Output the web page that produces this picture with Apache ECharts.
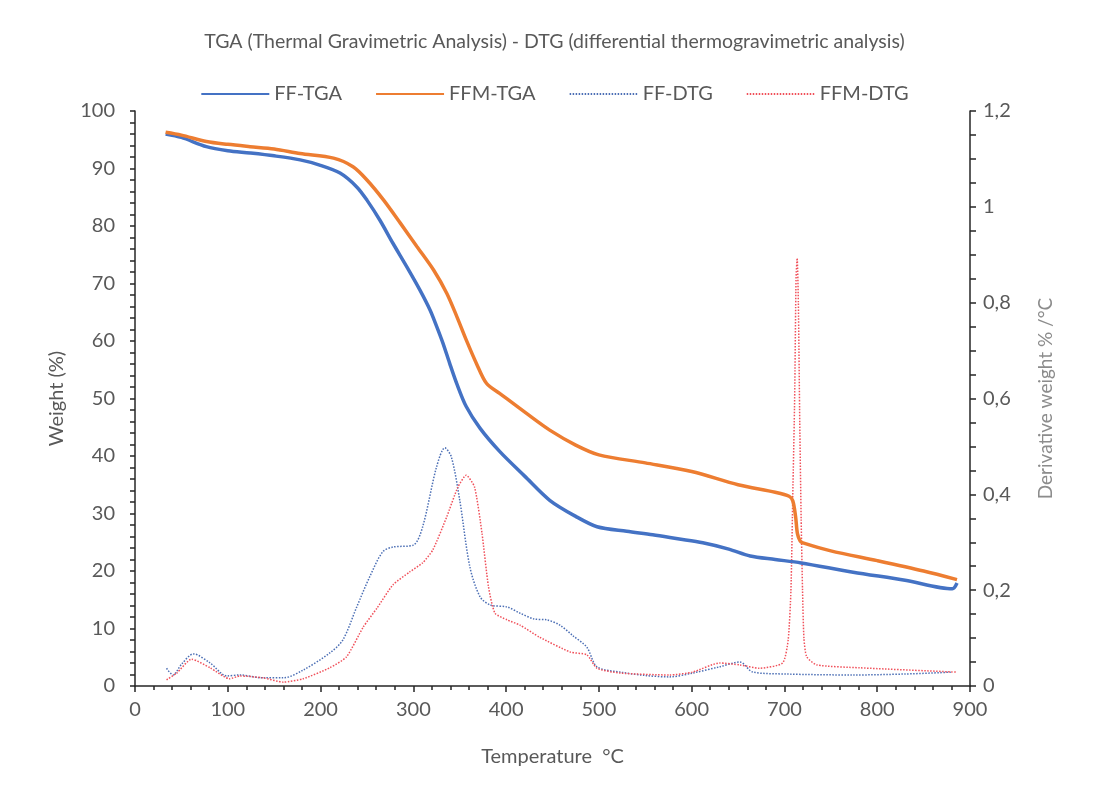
<!DOCTYPE html>
<html><head><meta charset="utf-8">
<script src="https://cdn.jsdelivr.net/npm/echarts@6/dist/echarts.min.js"></script>
<style>html,body{margin:0;padding:0;background:#fff}#c{width:1109px;height:796px}</style>
</head><body><div id="c"></div>
<script>
const titleText = 'TGA (Thermal Gravimetric Analysis) - DTG (differential thermogravimetric analysis)';
const seriesNames = ['FF-TGA', 'FFM-TGA', 'FF-DTG', 'FFM-DTG'];
const xTicks = [0, 100, 200, 300, 400, 500, 600, 700, 800, 900];
const leftTicks = [0, 10, 20, 30, 40, 50, 60, 70, 80, 90, 100];
const rightTicks = [0, 0.2, 0.4, 0.6, 0.8, 1, 1.2];

const ffTgaT = [33, 50, 77, 100, 124, 150, 178, 199, 221, 239, 250, 264, 278, 293, 307, 318, 325, 332, 339, 347, 357, 372, 393, 420, 447, 475, 498, 530, 558, 585, 612, 640, 663, 690, 718, 774, 830, 881, 886];
const ffTgaW = [96.0, 95.4, 93.8, 93.1, 92.7, 92.2, 91.5, 90.6, 89.2, 86.8, 84.5, 81.0, 77.0, 72.9, 68.9, 65.4, 62.6, 59.6, 56.2, 52.5, 48.6, 44.8, 40.8, 36.5, 32.3, 29.5, 27.7, 26.9, 26.3, 25.6, 24.9, 23.8, 22.6, 22.0, 21.4, 19.8, 18.4, 16.9, 17.9];

const ffmTgaT = [33, 50, 77, 100, 124, 150, 178, 214, 235, 250, 268, 286, 304, 322, 336, 347, 357, 368, 379, 393, 422, 447, 475, 500, 550, 600, 650, 690, 705, 709, 712, 714, 717, 720, 750, 800, 850, 886];
const ffmTgaW = [96.3, 95.8, 94.7, 94.2, 93.8, 93.4, 92.6, 91.8, 90.3, 88.0, 84.5, 80.5, 76.4, 72.3, 68.3, 64.2, 60.2, 56.1, 52.6, 50.9, 47.4, 44.5, 41.9, 40.2, 38.8, 37.3, 35.0, 33.7, 33.0, 32.2, 29.5, 26.5, 25.2, 24.9, 23.5, 21.8, 20.0, 18.5];

const ffDtgT = [34, 41, 50, 63, 81, 99, 113, 138, 160, 181, 210, 224, 239, 253, 267, 278, 300, 310, 325, 334, 341, 350, 361, 372, 383, 401, 415, 430, 444, 458, 472, 487, 498, 523, 550, 576, 601, 630, 652, 666, 702, 774, 830, 881];
const ffDtgV = [0.037, 0.023, 0.045, 0.067, 0.048, 0.021, 0.023, 0.017, 0.017, 0.033, 0.069, 0.096, 0.165, 0.228, 0.280, 0.290, 0.294, 0.332, 0.457, 0.497, 0.478, 0.388, 0.248, 0.186, 0.169, 0.165, 0.152, 0.140, 0.138, 0.127, 0.105, 0.081, 0.040, 0.029, 0.022, 0.019, 0.027, 0.040, 0.050, 0.029, 0.025, 0.023, 0.025, 0.029];

const ffmDtgT = [34, 45, 61, 81, 102, 113, 138, 160, 181, 210, 228, 246, 261, 278, 296, 310, 321, 336, 348, 357, 366, 374, 381, 388, 401, 415, 436, 469, 487, 498, 523, 576, 601, 630, 652, 673, 698, 704, 707, 709, 711, 712.5, 713.7, 715, 716.5, 718, 719.5, 721, 724, 735, 781, 885];
const ffmDtgV = [0.013, 0.027, 0.056, 0.038, 0.015, 0.021, 0.017, 0.008, 0.015, 0.038, 0.061, 0.123, 0.163, 0.211, 0.238, 0.257, 0.284, 0.353, 0.415, 0.440, 0.415, 0.319, 0.207, 0.152, 0.138, 0.127, 0.102, 0.071, 0.065, 0.037, 0.027, 0.023, 0.029, 0.048, 0.044, 0.037, 0.048, 0.096, 0.2, 0.4, 0.6, 0.85, 0.893, 0.8, 0.55, 0.35, 0.2, 0.1, 0.061, 0.044, 0.038, 0.029];

const zip = (a, b) => a.map((x, i) => [x, b[i]]);
const FONT = 'Lato';
const TXT = '#595959';
const AX = '#262626';

const chart = echarts.init(document.getElementById('c'), null, {renderer: 'canvas'});
chart.setOption({
  backgroundColor: '#fff',
  animation: false,
  title: {
    text: titleText, left: 'center', top: 27,
    textStyle: {fontFamily: FONT, fontSize: 19.5, fontWeight: 'normal', color: TXT}
  },
  legend: {
    top: 79, left: 'center', itemWidth: 68, itemHeight: 14, itemGap: 33,
    itemStyle: {opacity: 0},
    textStyle: {fontFamily: FONT, fontSize: 20, color: TXT},
    data: seriesNames
  },
  grid: {left: 135, right: 139, top: 111, bottom: 110},
  xAxis: {
    type: 'value', min: 0, max: 900, interval: 100,
    name: 'Temperature  °C', nameLocation: 'middle', nameGap: 61,
    nameTextStyle: {fontFamily: FONT, fontSize: 20, color: TXT},
    axisLine: {show: true, lineStyle: {color: AX, width: 1.5}},
    axisTick: {show: true, inside: false, length: 6, lineStyle: {color: AX, width: 1.5}},
    minorTick: {show: true, splitNumber: 5, length: 4, lineStyle: {color: AX, width: 1.5}},
    splitLine: {show: false},
    axisLabel: {fontFamily: FONT, fontSize: 20, color: TXT, margin: 14,
      formatter: v => xTicks.includes(v) ? String(v) : ''}
  },
  yAxis: [{
    type: 'value', min: 0, max: 100, interval: 10, position: 'left',
    name: 'Weight (%)', nameLocation: 'middle', nameGap: 68, nameRotate: 90,
    nameTextStyle: {fontFamily: FONT, fontSize: 20, color: TXT},
    axisLine: {show: true, lineStyle: {color: AX, width: 1.5}},
    axisTick: {show: true, inside: false, length: 5, lineStyle: {color: AX, width: 1.5}},
    minorTick: {show: true, splitNumber: 5, length: 5, lineStyle: {color: AX, width: 1.5}},
    splitLine: {show: false},
    axisLabel: {fontFamily: FONT, fontSize: 20, color: TXT, margin: 20,
      formatter: v => leftTicks.includes(v) ? String(v) : ''}
  }, {
    type: 'value', min: 0, max: 1.2, interval: 0.2, position: 'right',
    name: 'Derivative weight % /°C', nameLocation: 'middle', nameGap: 66, nameRotate: 90,
    nameTextStyle: {fontFamily: FONT, fontSize: 19, color: '#8c8c8c'},
    axisLine: {show: true, lineStyle: {color: AX, width: 1.5}},
    axisTick: {show: true, inside: false, length: 6, lineStyle: {color: AX, width: 1.5}},
    minorTick: {show: true, splitNumber: 4, length: 6, lineStyle: {color: AX, width: 1.5}},
    splitLine: {show: false},
    axisLabel: {fontFamily: FONT, fontSize: 20, color: TXT, margin: 13,
      formatter: v => { const r = Math.round(v * 10) / 10; return rightTicks.some(t => Math.abs(t - r) < 1e-9) ? String(r).replace('.', ',') : ''; }}
  }],
  series: [{
    name: seriesNames[0], type: 'line', yAxisIndex: 0, symbol: 'none', smooth: 0.3,
    data: zip(ffTgaT, ffTgaW), z: 4,
    lineStyle: {color: '#4472C4', width: 3.5}, itemStyle: {color: '#4472C4'}
  }, {
    name: seriesNames[1], type: 'line', yAxisIndex: 0, symbol: 'none', smooth: 0.3,
    data: zip(ffmTgaT, ffmTgaW), z: 4,
    lineStyle: {color: '#ED7D31', width: 3.5}, itemStyle: {color: '#ED7D31'}
  }, {
    name: seriesNames[2], type: 'line', yAxisIndex: 1, symbol: 'none', smooth: 0.3,
    data: zip(ffDtgT, ffDtgV), z: 3,
    lineStyle: {color: '#4C6FB5', width: 1.5, type: [1.5, 1.5]}, itemStyle: {color: '#4C6FB5'}
  }, {
    name: seriesNames[3], type: 'line', yAxisIndex: 1, symbol: 'none', smooth: 0.2,
    data: zip(ffmDtgT, ffmDtgV), z: 3,
    lineStyle: {color: '#F0505A', width: 1.5, type: [1.5, 1.5]}, itemStyle: {color: '#F0505A'}
  }]
});
</script></body></html>
